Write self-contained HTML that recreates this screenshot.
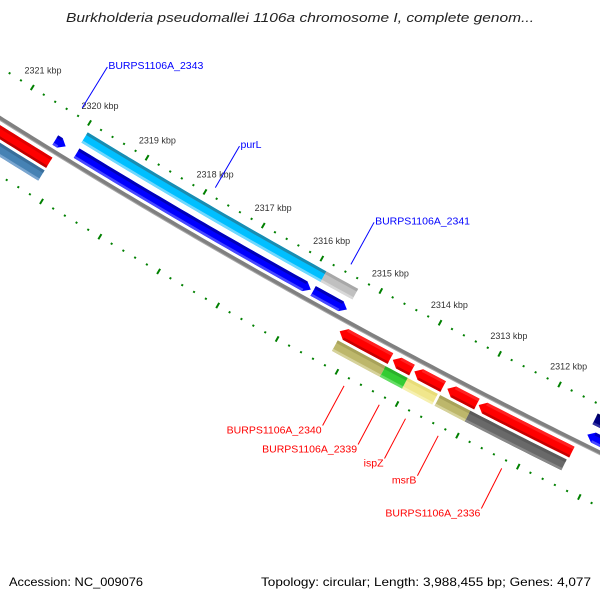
<!DOCTYPE html>
<html><head><meta charset="utf-8">
<style>
html,body{margin:0;padding:0;background:#fff;}
svg{display:block;font-family:"Liberation Sans",sans-serif;}
</style></head>
<body>
<svg id="map" width="600" height="600" viewBox="0 0 600 600" xmlns="http://www.w3.org/2000/svg">
<rect width="600" height="600" fill="#fff"/>
<text x="300" y="22" text-anchor="middle" font-size="13" font-style="italic" fill="#222" textLength="468" lengthAdjust="spacingAndGlyphs">Burkholderia pseudomallei 1106a chromosome I, complete genom...</text>
<g id="ticks"></g>
<g id="backbone"></g>
<g id="feats"></g>
<g id="labels"></g>
<text x="9" y="586" font-size="12" fill="#000" textLength="134" lengthAdjust="spacingAndGlyphs">Accession: NC_009076</text>
<text x="591" y="586" text-anchor="end" font-size="12" fill="#000" textLength="330" lengthAdjust="spacingAndGlyphs">Topology: circular; Length: 3,988,455 bp; Genes: 4,077</text>
</svg>
<script>
// ---- data ----
const featNames  = ["purL","BURPS1106A_2341","blue-cds-a","blue-cds-b","BURPS1106A_2343","red-left","steelblue-left","red-cds-1","red-cds-2","red-cds-3","red-cds-4","red-cds-5","BURPS1106A_2340","BURPS1106A_2339","ispZ","msrB","BURPS1106A_2336","navy-right","blue-right"];
const featStart  = [2319.95, 2315.85, 2319.93, 2315.88, 2320.30, 2323.0, 2323.0, 2315.25, 2314.36, 2314.00, 2313.45, 2312.93, 2315.21, 2314.41, 2314.04, 2313.50, 2313.00, 2311.30, 2311.30];
const featEnd    = [2315.85, 2315.31, 2315.92, 2315.31, 2320.12, 2320.20, 2320.20, 2314.40, 2314.04, 2313.52, 2312.96, 2311.39, 2314.41, 2314.04, 2313.54, 2313.00, 2311.41, 2309.00, 2309.00];
const featTrack  = [0,0,1,1,1,2,3,2,2,2,2,2,3,3,3,3,3,0,1];
const featArrow  = [0,0,1,1,1,0,0,-1,-1,-1,-1,-1,0,0,0,0,0,0,-1];
const featColor  = ["#00bfff","#c0c0c0","#0000ff","#0000ff","#0000ff","#ff0000","#4682b4","#ff0000","#ff0000","#ff0000","#ff0000","#ff0000","#bdb76b","#33cc33","#f0e68c","#bdb76b","#696969","#000080","#0000ff"];
const featTop    = ["#1a8cb0","#a8a8a8","#0000b8","#0000b8","#0000b8","#e00000","#3a6e9a","#ff2020","#ff2020","#ff2020","#ff2020","#ff2020","#a8a25a","#2ab02a","#e8dc78","#a8a25a","#5a5a5a","#000060","#0000b8"];
const featBot    = ["#70d8ff","#d8d8d8","#4848ff","#4848ff","#4848ff","#c00000","#7aa6d0","#c80000","#c80000","#c80000","#c80000","#c80000","#d6d29a","#66dd66","#f6f0b0","#d6d29a","#888888","#3030a0","#4848ff"];
const labelText  = ["BURPS1106A_2343","purL","BURPS1106A_2341","BURPS1106A_2340","BURPS1106A_2339","ispZ","msrB","BURPS1106A_2336"];
const labelFeat  = [4,0,1,12,13,14,15,16];
const tickLabels = [2312,2313,2314,2315,2316,2317,2318,2319,2320,2321];

// ---- geometry ----
const CX=3484, CY=-5425, A0=121.46, DEG=0.5925;
const trackR=[[6513,6525],[6531,6542],[6553,6565],[6568,6580]];
const NS="http://www.w3.org/2000/svg";
function P(k,r){const t=(A0+(k-2320)*DEG)*Math.PI/180;return [CX+r*Math.cos(t),CY+r*Math.sin(t)];}
function mk(tag,parent,attrs){const e=document.createElementNS(NS,tag);for(const a in attrs)e.setAttribute(a,attrs[a]);parent.appendChild(e);return e;}
function arcPts(k1,k2,r){const pts=[];const n=Math.max(2,Math.ceil(Math.abs(k1-k2)/0.1));for(let i=0;i<=n;i++){pts.push(P(k1+(k2-k1)*i/n,r));}return pts;}
function bandPath(k1,k2,r0,r1,arrow){
  const ah=0.1;let a=k1,b=k2;const rm=(r0+r1)/2;
  let pts=[];
  if(arrow===1){b=Math.min(k1,k2+ah);pts=arcPts(a,b,r0).concat([P(k2,rm)]).concat(arcPts(b,a,r1));}
  else if(arrow===-1){a=Math.max(k2,k1-ah);pts=[P(k1,rm)].concat(arcPts(a,b,r0)).concat(arcPts(b,a,r1));}
  else{pts=arcPts(a,b,r0).concat(arcPts(b,a,r1));}
  return "M"+pts.map(p=>p[0].toFixed(2)+","+p[1].toFixed(2)).join("L")+"Z";
}
function bodyRange(i){const ah=0.1;let a=featStart[i],b=featEnd[i];if(featArrow[i]===1)b=Math.min(a,b+ah);if(featArrow[i]===-1)a=Math.max(b,a-ah);return [a,b];}

// ticks
const tg=document.getElementById('ticks');
for(let k=2309;k<=2323.001;k+=0.2){
  const kk=Math.round(k*10)/10;const major=Math.abs(kk-Math.round(kk))<0.01;
  [[6504,major?3:1],[6596,major?3:1]].forEach(([r,h])=>{
    const p1=P(kk,r-h),p2=P(kk,r+h);
    const l=mk('line',tg,{x1:p1[0],y1:p1[1],x2:p2[0],y2:p2[1],stroke:'#008000','stroke-width':2});
    
    
  });
}
tickLabels.forEach(k=>{
  const p=P(k,6484);
  const t=mk('text',tg,{x:p[0],y:p[1]+3,'text-anchor':'middle','font-size':'9',fill:'#333'});
  t.textContent=k+" kbp";
  
  
});

// backbone
const bb=document.getElementById('backbone');
const bpts=arcPts(2323,2309,6547);
const bl=mk('polyline',bb,{points:bpts.map(p=>p.join(",")).join(" "),fill:'none',stroke:'#808080','stroke-width':4});


const bl2=mk('polyline',bb,{points:arcPts(2323,2309,6549).map(p=>p.join(",")).join(" "),fill:'none',stroke:'#a8a8a8','stroke-width':1});



// features
const fg=document.getElementById('feats');
featNames.forEach((n,i)=>{
  const [r0,r1]=trackR[featTrack[i]];
  const g=mk('g',fg,{});
  
  
  mk('path',g,{d:bandPath(featStart[i],featEnd[i],r0,r1,featArrow[i]),fill:featColor[i]});
  const [a,b]=bodyRange(i);
  mk('path',g,{d:bandPath(a,b,r0,r0+3,0),fill:featTop[i]});
  mk('path',g,{d:bandPath(a,b,r1-2.5,r1,0),fill:featBot[i]});
});

// labels
const lg=document.getElementById('labels');
labelText.forEach((txt,j)=>{
  const i=labelFeat[j];const km=(featStart[i]+featEnd[i])/2;
  const upper=featTrack[i]<2;
  const col=upper?'#0000ff':'#ff0000';
  const p1=upper?P(km,6495):P(km,6605), p2=upper?P(km,6447):P(km,6650);
  const l=mk('line',lg,{x1:p1[0],y1:p1[1],x2:p2[0],y2:p2[1],stroke:col,'stroke-width':1});
  
  
  const t=mk('text',lg,upper?{x:p2[0]+1,y:p2[1]+2,'font-size':'10.5',fill:col}:{x:p2[0]-1,y:p2[1]+8,'text-anchor':'end','font-size':'10.5',fill:col});
  t.textContent=txt;
  
  
});
</script>
</body></html>
